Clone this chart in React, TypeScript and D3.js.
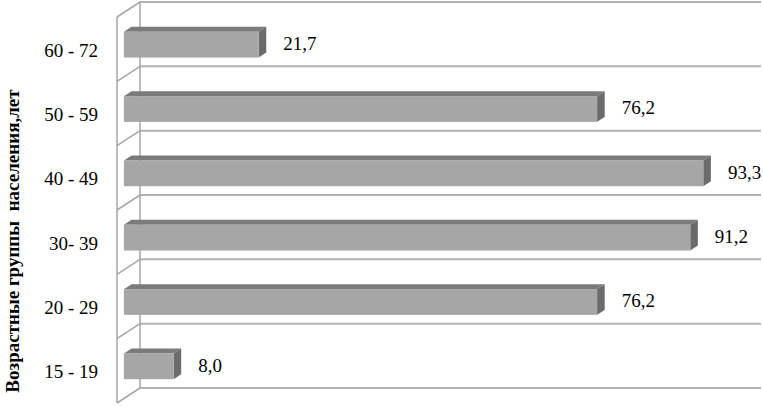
import React from "react";
import * as d3 from "d3";

const categories = ["60 - 72", "50 - 59", "40 - 49", "30- 39", "20 - 29", "15 - 19"];
const values = [21.7, 76.2, 93.3, 91.2, 76.2, 8.0];
const valueLabels = ["21,7", "76,2", "93,3", "91,2", "76,2", "8,0"];
const axisTitle = "Возрастные группы  населения,лет";

const W = 763;
const H = 407;
// back wall geometry
const backLeft = 140;
const backRight = 761;
const backTop = 2;
const backBottom = 388;
// depth offset (back -> front)
const DX = -23;
const DY = 15;
const tFront = 0.7;
const tBack = 0.37;

const FONT = "'Liberation Serif', 'Times New Roman', Times, 'DejaVu Serif', serif";

export default function App() {
  const x = d3.scaleLinear().domain([0, 100]).range([backLeft, backRight]);
  const y = d3.scaleBand<string>().domain(categories).range([backTop, backBottom]).padding(0);
  const bw = y.bandwidth();
  const barH = bw * 0.4;
  const boundaries = categories.map((c) => y(c)!).concat([backBottom]);

  const gridColor = "#b3b3b3";
  const wallColor = "#a6a6a6";

  return (
    <svg width={W} height={H} style={{ position: "absolute", left: 0, top: 0, background: "#fff", fontFamily: FONT }}>
      {/* gridlines on back wall */}
      {boundaries.map((b, i) => (
        <line key={"g" + i} x1={backLeft} x2={backRight} y1={b} y2={b} stroke={gridColor} strokeWidth={2} />
      ))}
      {/* side wall diagonals */}
      {boundaries.map((b, i) => (
        <line key={"d" + i} x1={backLeft} y1={b} x2={backLeft + DX} y2={b + DY} stroke={wallColor} strokeWidth={1.5} />
      ))}
      {/* side wall verticals */}
      <line x1={backLeft} x2={backLeft} y1={backTop} y2={backBottom} stroke={wallColor} strokeWidth={1.5} />
      <line x1={backLeft + DX} x2={backLeft + DX} y1={backTop + DY} y2={backBottom + DY} stroke={wallColor} strokeWidth={1.5} />

      {/* bars */}
      {categories.map((c, i) => {
        const v = values[i];
        const yc = y(c)! + bw / 2;
        const fx0 = x(0) + DX * tFront;
        const fx1 = x(v) + DX * tFront;
        const fy0 = yc - barH / 2 + DY * tFront;
        const fy1 = yc + barH / 2 + DY * tFront;
        const ox = DX * (tBack - tFront); // shift front -> back
        const oy = DY * (tBack - tFront);
        const top = `M${fx0},${fy0} L${fx1},${fy0} L${fx1 + ox},${fy0 + oy} L${fx0 + ox},${fy0 + oy} Z`;
        const side = `M${fx1},${fy0} L${fx1 + ox},${fy0 + oy} L${fx1 + ox},${fy1 + oy} L${fx1},${fy1} Z`;
        return (
          <g key={"b" + i}>
            <path d={top} fill="#7b7b7b" />
            <path d={side} fill="#6b6b6b" />
            <rect x={fx0} y={fy0} width={fx1 - fx0} height={fy1 - fy0} fill="#a6a6a6" />
            <text x={fx1 + ox + 17} y={yc + DY * tFront + 1} dominantBaseline="middle" fontSize={19} fill="#000" fontFamily={FONT}>
              {valueLabels[i]}
            </text>
          </g>
        );
      })}

      {/* category labels */}
      {categories.map((c, i) => (
        <text key={"c" + i} x={98} y={y(c)! + bw / 2 + DY + 3} textAnchor="end" dominantBaseline="middle" fontSize={19} fill="#000" fontFamily={FONT}>
          {c}
        </text>
      ))}

      {/* axis title */}
      <text transform={`translate(15,${241}) rotate(-90)`} textAnchor="middle" dominantBaseline="middle"
        fontSize={19} fontWeight="bold" fill="#000" fontFamily={FONT} style={{ whiteSpace: "pre" }}>
        {axisTitle}
      </text>
    </svg>
  );
}
